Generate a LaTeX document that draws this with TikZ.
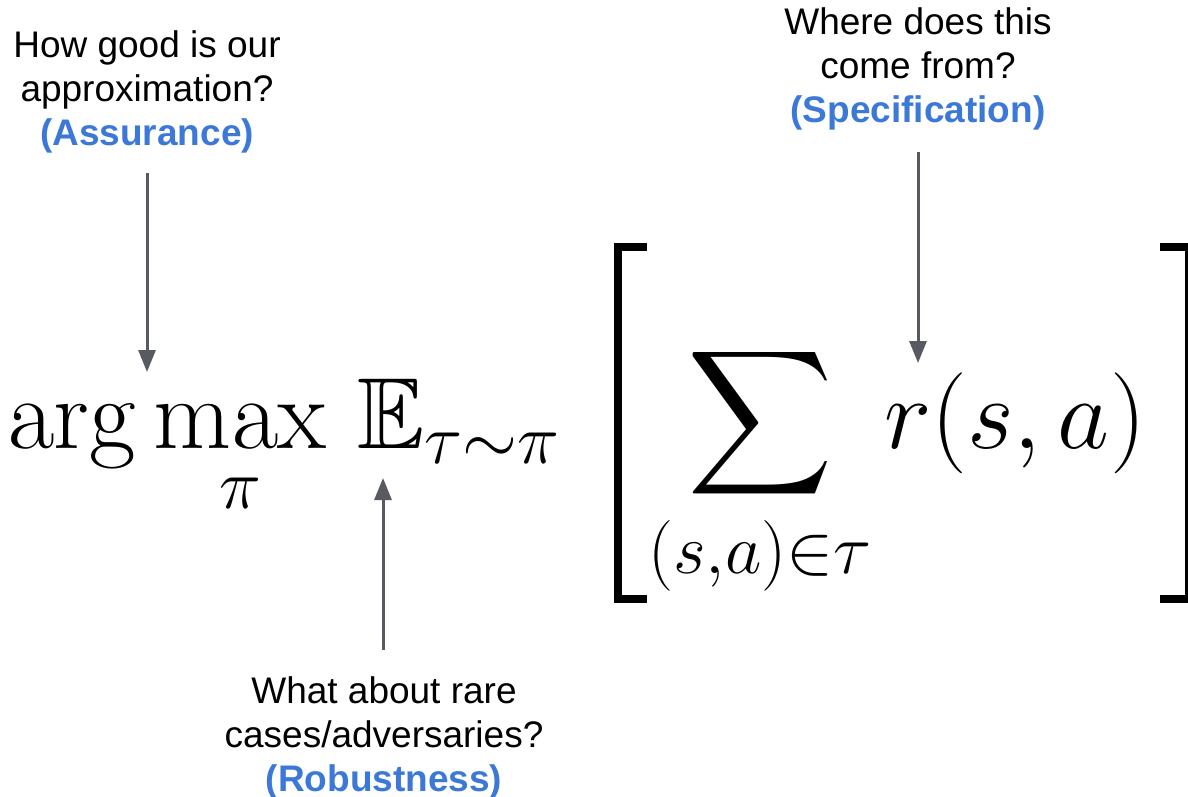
\RequirePackage{fix-cm}
\documentclass[tikz,border=0pt]{standalone}
\usepackage{amsmath,amssymb}
\usepackage[no-math]{fontspec}
\newfontfamily\notefont{Liberation Sans}
\usetikzlibrary{arrows.meta}
\definecolor{qblue}{HTML}{3C78D8}
\definecolor{arrgray}{HTML}{575B61}
\begin{document}
\begin{tikzpicture}[x=1pt,y=-1pt,
  note/.style={align=center,inner sep=0pt,font=\notefont\fontsize{37}{44}\selectfont},
  math/.style={inner sep=0pt,font=\fontsize{101}{115}\selectfont},
  arr/.style={arrgray,line width=3pt,-{Triangle[width=17pt,length=22pt]}},
  bracket/.style={black,line width=8pt,line join=miter}]
\useasboundingbox (0,0) rectangle (1188,797);
% formula
\node[math,anchor=base west] (argmax) at (7,448) {$\displaystyle\arg\max_{\pi}$};
\node[math,anchor=base west] (expect) at (357,448) {$\mathbb{E}_{\tau\sim\pi}$};
\node[math,anchor=base] (sum) at (760,448) {$\displaystyle\sum_{(s,a)\in\tau}$};
\node[math,anchor=base west] (reward) at (884,448) {$r(s,a)$};
\draw[bracket] (647,247) -- (617.5,247) -- (617.5,599) -- (647,599);
\draw[bracket] (1160,247) -- (1189,247) -- (1189,599) -- (1160,599);
% notes (anchor base = baseline of last line)
\node[note,anchor=base] (assur) at (147,146) {How good is our\\approximation?\\{\color{qblue}\bfseries(Assurance)}};
\node[note,anchor=base] (spec) at (918,123) {Where does this\\come from?\\{\color{qblue}\bfseries(Specification)}};
\node[note,anchor=base] (robust) at (384,791) {What about rare\\cases/adversaries?\\{\color{qblue}\bfseries(Robustness)}};
% arrow ends
\coordinate (assurStart) at (147,173);
\coordinate (assurTip) at (147,372);
\coordinate (specStart) at (918,152);
\coordinate (specTip) at (918,363);
\coordinate (robStart) at (383,650);
\coordinate (robTip) at (383,478);
\draw[arr] (assurStart) -- (assurTip);
\draw[arr] (specStart) -- (specTip);
\draw[arr] (robStart) -- (robTip);
\end{tikzpicture}
\end{document}
